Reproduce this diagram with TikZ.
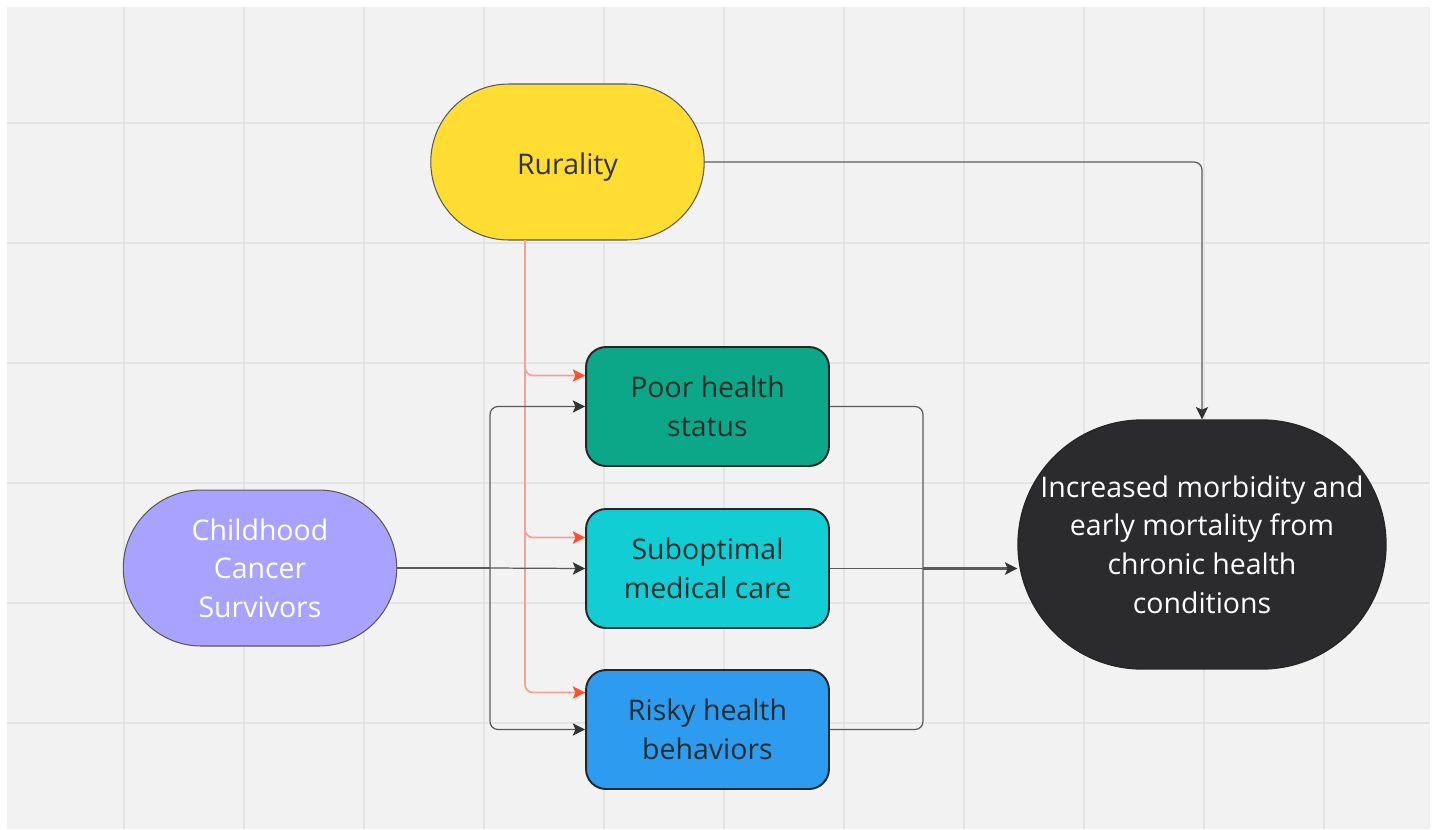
\documentclass[tikz,border=0pt]{standalone}
\usepackage{fontspec}
\setmainfont{Open Sans}
\usepackage{tikz}
\usetikzlibrary{arrows.meta,positioning,calc}

\definecolor{canvas}{HTML}{F2F2F2}
\definecolor{gridline}{HTML}{E4E4E4}
\definecolor{ruralfill}{HTML}{FFDD33}
\definecolor{childfill}{HTML}{A9A3FF}
\definecolor{poorfill}{HTML}{0CA789}
\definecolor{subfill}{HTML}{12CDD4}
\definecolor{riskfill}{HTML}{2D9BF0}
\definecolor{outfill}{HTML}{2B2B2E}
\definecolor{linkgrey}{HTML}{5A5A5A}
\definecolor{rurline}{HTML}{F4A393}
\definecolor{rurtip}{HTML}{FF4D2E}
\definecolor{darktext}{HTML}{1F2D2D}

\begin{document}
\begin{tikzpicture}[
  x=0.02cm, y=-0.02cm,
  every node/.style={align=center, font=\fontsize{16.2}{22}\selectfont, inner sep=0pt},
  pill/.style={draw=linkgrey, line width=0.6pt, minimum width=5.47cm, minimum height=3.12cm, rounded corners=1.56cm},
  box/.style={draw=black!85, line width=1.1pt, minimum width=4.86cm, minimum height=2.38cm, rounded corners=0.4cm, text=darktext},
  link/.style={draw=linkgrey, line width=0.7pt, rounded corners=0.16cm},
  arrow/.style={link, -{Stealth[length=7pt, width=7pt, inset=1.5pt, color=black!80]}},
  rurarrow/.style={draw=rurline, line width=1pt, rounded corners=0.16cm, -{Stealth[length=7pt, width=7pt, inset=1.5pt, color=rurtip]}}
]
  % Canvas
  \useasboundingbox (0,0) rectangle (1435,829);
  \fill[white] (0,0) rectangle (1435,829);
  \fill[canvas] (7,7) rectangle (1430,829);
  \foreach \gx in {124,244,...,1324} \draw[gridline, line width=1.2pt] (\gx,7) -- (\gx,829);
  \foreach \gy in {123,243,...,723} \draw[gridline, line width=1.2pt] (7,\gy) -- (1430,\gy);

  % Nodes
  \node[pill, fill=ruralfill, text=black!80, text height=14pt, text depth=0pt] (rural) at (567.5,162) {Rurality};
  \node[pill, fill=childfill, text=white] (child) at (260,568) {Childhood\\Cancer\\Survivors};
  \node[box, fill=poorfill] (poor) at (707.5,406.5) {Poor health\\status};
  \node[box, fill=subfill] (subopt) at (707.5,568.5) {Suboptimal\\medical care};
  \node[box, fill=riskfill] (risky) at (707.5,729.5) {Risky health\\behaviors};
  \node[draw=black!85, line width=0.8pt, fill=outfill, text=white, minimum width=7.36cm, minimum height=4.98cm, rounded corners=2.49cm] (outcome) at (1202,544.5)
    {Increased morbidity and\\early mortality from\\chronic health\\conditions};

  % Junction points
  \coordinate (rsplit) at (525,240);
  \coordinate (csplit) at (490,568);
  \coordinate (mjoin) at (923,568.5);

  % Rurality to mediators
  \draw[rurarrow] (rsplit) |- ($(poor.west)+(0,-31)$);
  \draw[rurarrow] (rsplit) |- ($(subopt.west)+(0,-31)$);
  \draw[rurarrow] (rsplit) |- ($(risky.west)+(0,-37)$);

  % Survivors to mediators
  \draw[link, line width=1pt] (child.east) -- (csplit);
  \draw[arrow] (csplit) |- (poor.west);
  \draw[arrow] (csplit) -- (subopt.west);
  \draw[arrow] (csplit) |- (risky.west);

  % Mediators to outcome
  \draw[link] (poor.east) -| (mjoin);
  \draw[link] (risky.east) -| (mjoin);
  \draw[link] (subopt.east) -- (mjoin);
  \draw[arrow, line width=1.6pt] (mjoin) -- (outcome.west |- mjoin);

  % Rurality to outcome
  \draw[arrow] (rural.east) -| (outcome.north);
\end{tikzpicture}
\end{document}
